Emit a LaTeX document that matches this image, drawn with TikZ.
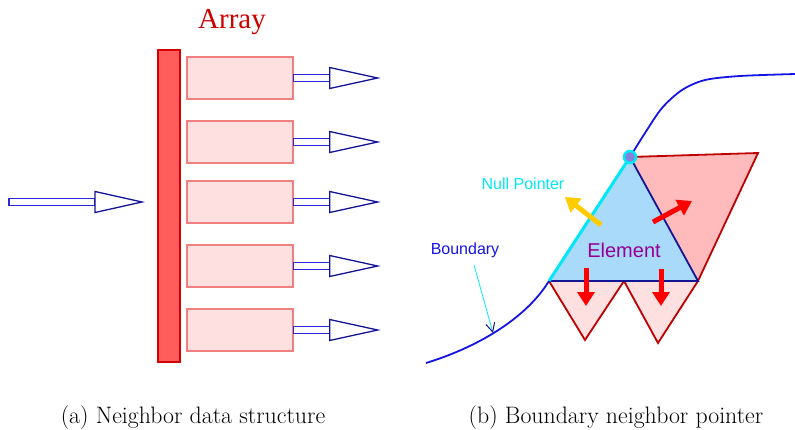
\documentclass[tikz,border=0pt]{standalone}
\usepackage{fontspec}
\newfontfamily\timesf{Liberation Serif}
\newfontfamily\arialf{Liberation Sans}
\usetikzlibrary{arrows.meta}
\definecolor{navyb}{RGB}{20,20,150}
\definecolor{shaftb}{RGB}{40,40,220}
\definecolor{barfill}{RGB}{255,92,92}
\definecolor{bardraw}{RGB}{215,0,0}
\definecolor{boxfill}{RGB}{255,224,224}
\definecolor{boxdraw}{RGB}{240,128,128}
\definecolor{arraytxt}{RGB}{204,0,0}
\definecolor{elemfill}{RGB}{170,218,250}
\definecolor{cyanb}{RGB}{0,232,245}
\definecolor{pinkbig}{RGB}{255,187,187}
\definecolor{darkred}{RGB}{190,0,0}
\definecolor{elemtxt}{RGB}{150,0,150}
\definecolor{bndblue}{RGB}{20,20,230}
\definecolor{goldarr}{RGB}{255,204,0}
\definecolor{circfill}{RGB}{130,130,220}
\definecolor{brightred}{RGB}{255,0,0}
\tikzset{
  cell/.style={draw=boxdraw, fill=boxfill, line width=1.3pt, minimum width=106pt, minimum height=42pt, inner sep=0pt},
  shaft/.style={draw=shaftb, fill=white, line width=1.3pt},
  head/.style={draw=navyb, fill=white, line width=1.3pt, line join=miter},
  tri/.style={line width=1.8pt, line join=miter},
  fatarrow/.style={line width=5pt, -{Triangle[length=14pt,width=17pt]}},
  captxt/.style={font=\fontsize{23.8}{26}\selectfont, inner sep=0pt},
  sanstxt/.style={font=\arialf\fontsize{16}{18}\selectfont, inner sep=0pt}
}
\begin{document}
\begin{tikzpicture}[x=1pt,y=-1pt]
\useasboundingbox (0,0) rectangle (795,429);
% ---------- (a) ----------
\node[draw=bardraw, fill=barfill, line width=1.3pt, minimum width=22pt, minimum height=312pt, inner sep=0pt] (bar) at (169,206) {};
\node[font=\timesf\fontsize{29}{32}\selectfont, text=arraytxt, inner sep=0pt] (arr) at (232,22) {Array};
\node[cell] (b1) at (240,78) {};
\node[cell] (b2) at (240,142) {};
\node[cell] (b3) at (240,202) {};
\node[cell] (b4) at (240,266) {};
\node[cell] (b5) at (240,330) {};
\foreach \b in {b1,b2,b3,b4,b5}{
  \draw[shaft] (\b.east) ++(0,-3.5) rectangle ++(36,7);
  \draw[head] (\b.east) ++(36,-10.5) -- ++(48,10.5) coordinate (\b tip) -- ++(-48,10.5) -- cycle;
}
\coordinate (inS) at (9,202);
\draw[shaft] (inS) ++(0,-3.5) rectangle ++(86,7);
\draw[head] (inS) ++(86,-10.5) -- ++(47,10.5) coordinate (intip) -- ++(-47,10.5) -- cycle;
% ---------- (b) ----------
\coordinate (A) at (549,281);
\coordinate (T) at (630,157);
\coordinate (B) at (698,281);
\coordinate (R) at (758,153);
\coordinate (Q) at (636,156.8);
\coordinate (M) at (624,281);
\coordinate (D1) at (585,340);
\coordinate (D2) at (658,343);
\fill[pinkbig] (T) -- (R) -- (B) -- cycle;
\draw[darkred, tri] (Q) -- (R) -- (B);
\filldraw[fill=boxfill, draw=darkred, tri] (A) -- (D1) -- (M) -- (D2) -- (B);
\fill[elemfill] (A) -- (T) -- (B) -- cycle;
\draw[navyb, tri] (T) -- (B) -- (A);
\draw[cyanb, line width=3pt] (A) -- (T);
\draw[bndblue, line width=1.8pt] (426,363) .. controls (475,348) and (525,320) .. (A);
\draw[bndblue, line width=1.8pt] plot[smooth] coordinates {(T) (645,133) (662,108) (682,90) (705,80) (740,76) (795,74)};
\node[circle, fill=circfill, draw=cyanb, line width=2.5pt, minimum size=12pt, inner sep=0pt] (node) at (T) {};
\draw[fatarrow, brightred] (653,222) -- (692,201);
\draw[fatarrow, brightred] (586,268) -- (586,306);
\draw[fatarrow, brightred] (661,269) -- (661,306);
\draw[fatarrow, goldarr] (601,225) -- (565,197);
\node[sanstxt, text=elemtxt, font=\arialf\fontsize{20}{22}\selectfont] (el) at (624,250) {Element};
\node[sanstxt, text=cyanb] (np) at (523,184) {Null Pointer};
\node[sanstxt, text=bndblue] (bd) at (465,250) {Boundary};
\coordinate (bp) at (493,333);
\draw[cyanb, line width=0.8pt, -{Straight Barb[length=9pt,width=9pt,color=navyb,line width=1pt]}] (474,265) -- (bp);
% captions
\node[captxt] (ca) at (193,418) {(a) Neighbor data structure};
\node[captxt] (cb) at (616,418) {(b) Boundary neighbor pointer};
\end{tikzpicture}
\end{document}
